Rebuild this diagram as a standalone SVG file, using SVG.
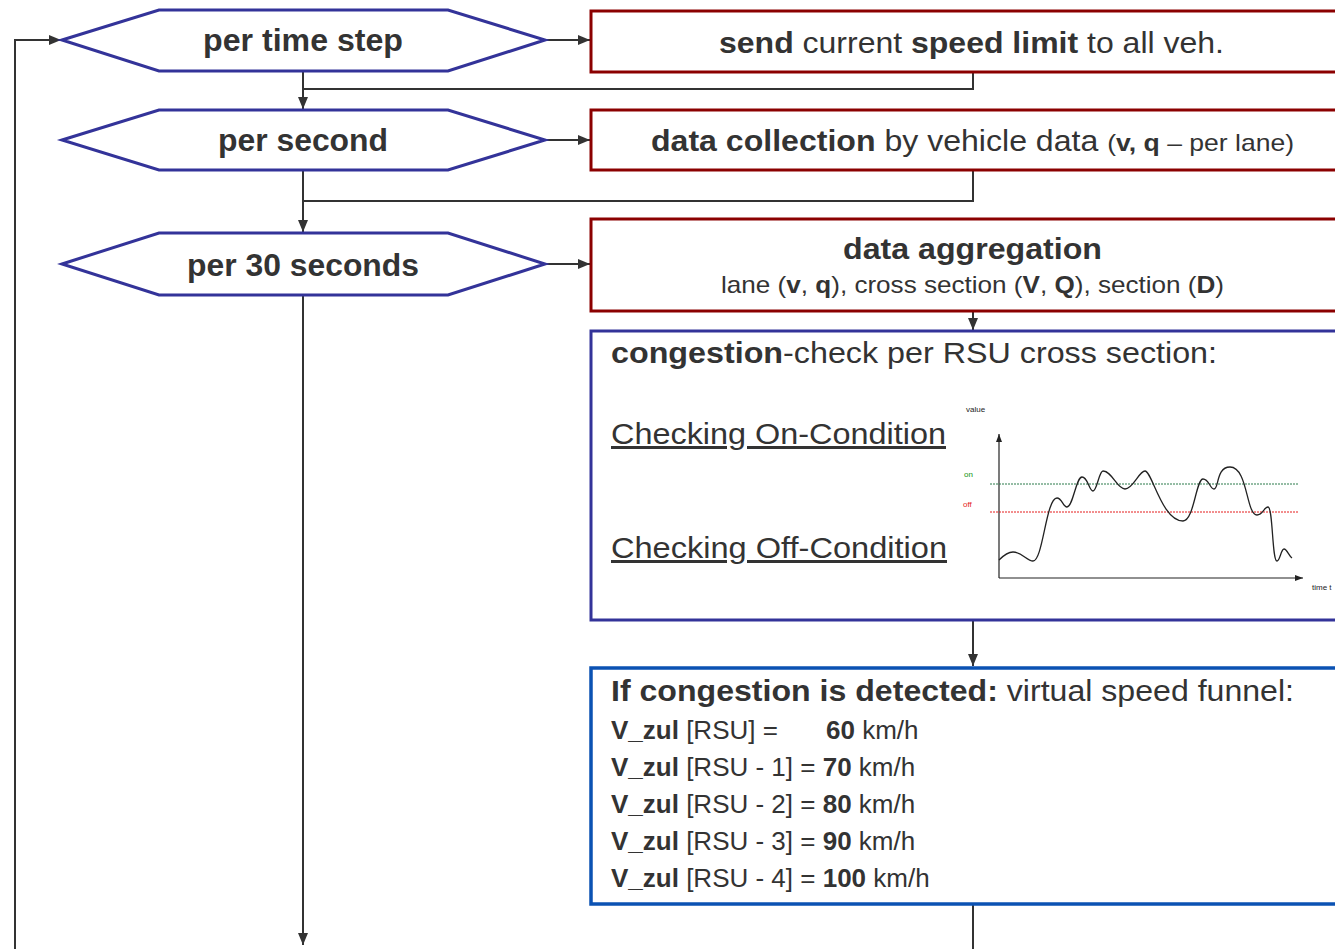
<svg xmlns="http://www.w3.org/2000/svg" width="1335" height="949" viewBox="0 0 1335 949">
<defs>
<marker id="arr" viewBox="0 0 12 10" refX="12" refY="5" markerWidth="12" markerHeight="10" markerUnits="userSpaceOnUse" orient="auto">
<path d="M0,0 L12,5 L0,10 Z" fill="#333"/>
</marker>
<marker id="arrs" viewBox="0 0 8 6" refX="8" refY="3" markerWidth="8" markerHeight="6" markerUnits="userSpaceOnUse" orient="auto">
<path d="M0,0 L8,3 L0,6 Z" fill="#222"/>
</marker>
<style>
text{font-family:"Liberation Sans",Arial,Helvetica,sans-serif;fill:#333;}
.hex{fill:#fff;stroke:#333399;stroke-width:3;}
.red{fill:#fff;stroke:#8b0000;stroke-width:3;}
.blue{fill:#fff;stroke:#333399;stroke-width:3;}
.blue2{fill:#fff;stroke:#0b52b3;stroke-width:3.5;}
.con{fill:none;stroke:#333;stroke-width:2;}
.ht{font-size:31px;font-weight:bold;text-anchor:middle;}
.b{font-weight:bold;}
.v{font-size:26px;}
.sm{font-size:8px;fill:#222;}
</style>
</defs>

<g id="connectors">
<path class="con" d="M545,40 L590,40" marker-end="url(#arr)"/>
<path class="con" d="M303,71 L303,109" marker-end="url(#arr)"/>
<path class="con" d="M973,72 L973,89 L303,89"/>
<path class="con" d="M545,140 L590,140" marker-end="url(#arr)"/>
<path class="con" d="M303,170 L303,232" marker-end="url(#arr)"/>
<path class="con" d="M973,170 L973,201 L303,201"/>
<path class="con" d="M545,264 L590,264" marker-end="url(#arr)"/>
<path class="con" d="M303,295 L303,945" marker-end="url(#arr)"/>
<path class="con" d="M973,311 L973,330" marker-end="url(#arr)"/>
<path class="con" d="M973,620 L973,666" marker-end="url(#arr)"/>
<path class="con" d="M973,904 L973,949"/>
<path class="con" d="M15,949 L15,40 L61,40" marker-end="url(#arr)"/>
</g>

<g id="hex-time-step">
<polygon class="hex" points="62,40 159,10 448,10 545,40 448,71 159,71"/>
<text class="ht" x="303" y="51" textLength="200" lengthAdjust="spacingAndGlyphs">per time step</text>
</g>
<g id="hex-second">
<polygon class="hex" points="62,140 159,110 448,110 545,140 448,170 159,170"/>
<text class="ht" x="303" y="151" textLength="170" lengthAdjust="spacingAndGlyphs">per second</text>
</g>
<g id="hex-30s">
<polygon class="hex" points="62,264 159,233 448,233 545,264 448,295 159,295"/>
<text class="ht" x="303" y="276" textLength="232" lengthAdjust="spacingAndGlyphs">per 30 seconds</text>
</g>

<g id="send-speed">
<rect class="red" x="591" y="11" width="760" height="61"/>
<text x="719" y="53" font-size="29" textLength="505" lengthAdjust="spacingAndGlyphs"><tspan class="b">send</tspan> current <tspan class="b">speed limit</tspan> to all veh.</text>
</g>

<g id="data-collection">
<rect class="red" x="591" y="110" width="760" height="60"/>
<text x="651" y="151" font-size="29" textLength="643" lengthAdjust="spacingAndGlyphs"><tspan class="b">data collection</tspan> by vehicle data <tspan font-size="24">(<tspan class="b">v, q</tspan> – per lane)</tspan></text>
</g>

<g id="data-aggregation">
<rect class="red" x="591" y="219" width="760" height="92"/>
<text x="972.5" y="259" font-size="30" font-weight="bold" text-anchor="middle" textLength="259" lengthAdjust="spacingAndGlyphs">data aggregation</text>
<text x="721" y="293" font-size="24" textLength="503" lengthAdjust="spacingAndGlyphs">lane (<tspan class="b">v</tspan>, <tspan class="b">q</tspan>), cross section (<tspan class="b">V</tspan>, <tspan class="b">Q</tspan>), section (<tspan class="b">D</tspan>)</text>
</g>

<g id="congestion-check">
<rect class="blue" x="591" y="331" width="760" height="289"/>
<text x="611" y="363" font-size="29" textLength="606" lengthAdjust="spacingAndGlyphs"><tspan class="b">congestion</tspan>-check per RSU cross section:</text>
<text x="611" y="444" font-size="30" text-decoration="underline" textLength="335" lengthAdjust="spacingAndGlyphs">Checking On-Condition</text>
<text x="611" y="558" font-size="30" text-decoration="underline" textLength="336" lengthAdjust="spacingAndGlyphs">Checking Off-Condition</text>
<g id="chart">
<path d="M999,578 L999,434" fill="none" stroke="#222" stroke-width="1.2" marker-end="url(#arrs)"/>
<path d="M999,578 L1303,578" fill="none" stroke="#222" stroke-width="1.2" marker-end="url(#arrs)"/>
<line x1="990" y1="484" x2="1298" y2="484" stroke="#2a7a4a" stroke-width="1" stroke-dasharray="2,1"/>
<line x1="990" y1="512" x2="1298" y2="512" stroke="#e51c1c" stroke-width="1" stroke-dasharray="2,1"/>
<text class="sm" x="966" y="412">value</text>
<text class="sm" x="964" y="477" style="fill:#129312">on</text>
<text class="sm" x="963" y="507" style="fill:#e51c1c">off</text>
<text class="sm" x="1312" y="590">time t</text>
<path d="M999,560 C1004,555 1008,552 1013,552 C1022,552 1027,561 1033,561 C1043,561 1046,498 1057,498 C1062,498 1063,507 1067,507 C1073,507 1076,477 1082,477 C1088,477 1089,491 1093,491 C1097,491 1099,471 1103,471 C1112,471 1117,489 1125,489 C1133,489 1139,471 1145,471 C1152,471 1162,521 1183,521 C1194,521 1196,479 1203,479 C1209,479 1210,489 1214,489 C1219,489 1216,467 1230,467 C1248,467 1246,515 1257,515 C1263,515 1264,507 1268,507 C1273,507 1272,561 1277,561 C1280,561 1281,549 1284,549 C1287,549 1289,556 1292,558" fill="none" stroke="#222" stroke-width="1.3"/>
</g>
</g>

<g id="speed-funnel">
<rect class="blue2" x="591" y="668" width="760" height="236"/>
<text x="611" y="701" font-size="30" textLength="683" lengthAdjust="spacingAndGlyphs"><tspan class="b">If congestion is detected:</tspan> virtual speed funnel:</text>
<text class="v" x="611" y="739"><tspan class="b">V_zul</tspan> [RSU] =<tspan x="826" class="b">60</tspan> km/h</text>
<text class="v" x="611" y="776"><tspan class="b">V_zul</tspan> [RSU - 1] = <tspan class="b">70</tspan> km/h</text>
<text class="v" x="611" y="813"><tspan class="b">V_zul</tspan> [RSU - 2] = <tspan class="b">80</tspan> km/h</text>
<text class="v" x="611" y="850"><tspan class="b">V_zul</tspan> [RSU - 3] = <tspan class="b">90</tspan> km/h</text>
<text class="v" x="611" y="887"><tspan class="b">V_zul</tspan> [RSU - 4] = <tspan class="b">100</tspan> km/h</text>
</g>
</svg>
